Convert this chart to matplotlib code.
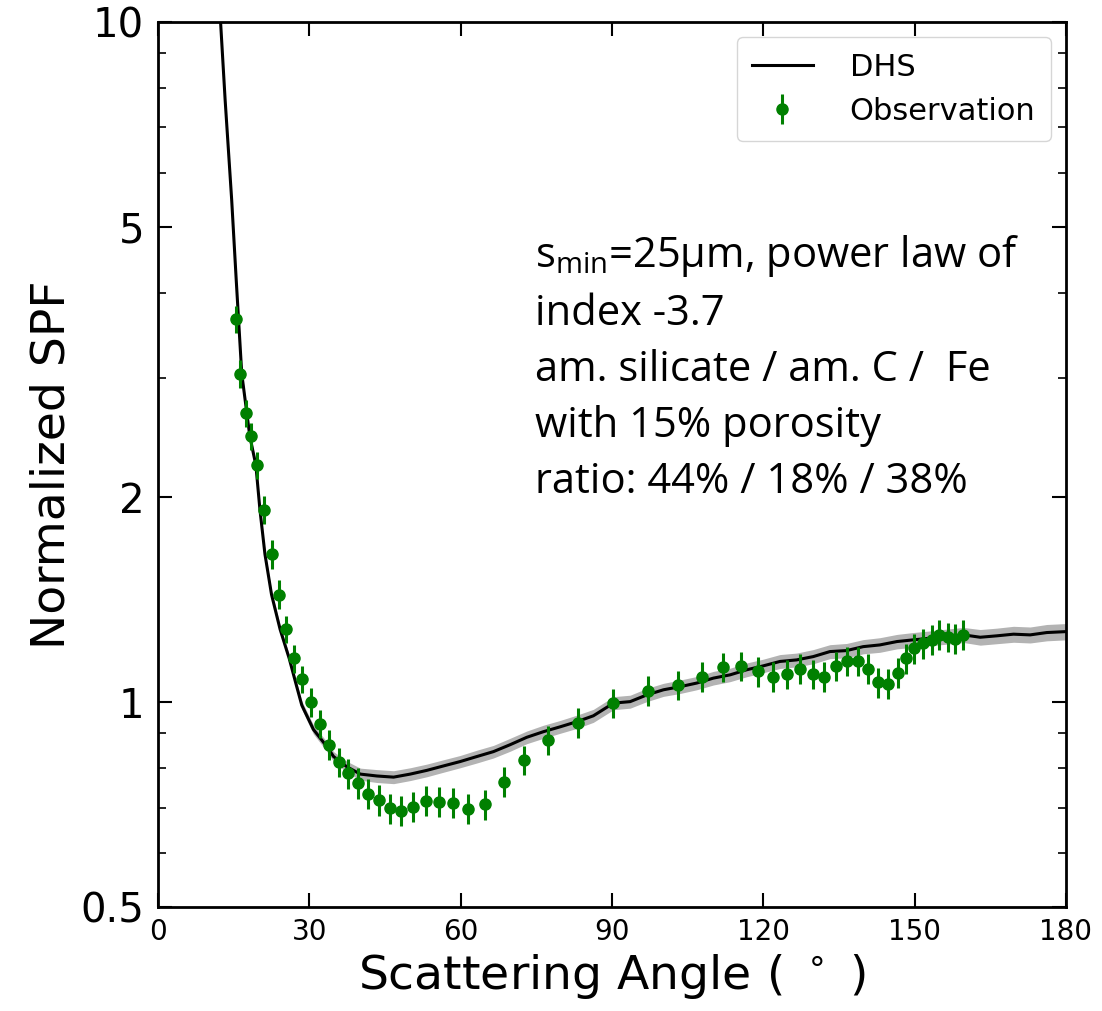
import matplotlib
matplotlib.use("Agg")
import matplotlib.pyplot as plt
from matplotlib.ticker import FixedLocator, NullFormatter, LogLocator

plt.rcParams['mathtext.rm'] = 'Open Sans'

# observed phase function
obs_angle = [15.4, 16.3, 17.4, 18.5, 19.6, 21.1, 22.5, 23.9, 25.4, 27.0, 28.6, 30.3,
             32.1, 33.9, 35.8, 37.6, 39.6, 41.6, 43.8, 45.9, 48.2, 50.6, 53.1, 55.7,
             58.5, 61.5, 64.9, 68.5, 72.6, 77.3, 83.3, 90.2, 97.2, 103.0, 107.8, 112.0,
             115.6, 118.9, 121.9, 124.6, 127.3, 129.8, 132.1, 134.4, 136.5, 138.7, 140.8,
             142.7, 144.7, 146.7, 148.3, 149.9, 151.6, 153.4, 154.9, 156.6, 158.0, 159.5]
obs_spf = [3.66, 3.04, 2.66, 2.46, 2.23, 1.92, 1.65, 1.44, 1.28, 1.16, 1.08, 1.00,
           0.93, 0.866, 0.816, 0.786, 0.760, 0.733, 0.718, 0.698, 0.693, 0.702, 0.716, 0.714,
           0.711, 0.697, 0.708, 0.764, 0.822, 0.880, 0.933, 0.997, 1.04, 1.06, 1.09, 1.126,
           1.13, 1.11, 1.09, 1.10, 1.12, 1.10, 1.09, 1.13, 1.15, 1.15, 1.12,
           1.07, 1.065, 1.105, 1.16, 1.20, 1.22, 1.235, 1.256, 1.246, 1.24, 1.256]
obs_err = [0.17, 0.14, 0.12, 0.11, 0.10, 0.09, 0.08, 0.07, 0.06, 0.055, 0.05, 0.05,
           0.045, 0.045, 0.04, 0.04, 0.04, 0.037, 0.037, 0.035, 0.035, 0.035, 0.036, 0.036,
           0.036, 0.035, 0.036, 0.038, 0.041, 0.044, 0.047, 0.05, 0.052, 0.053, 0.055, 0.056,
           0.057, 0.056, 0.055, 0.055, 0.056, 0.055, 0.055, 0.056, 0.057, 0.057, 0.056,
           0.054, 0.053, 0.055, 0.058, 0.06, 0.061, 0.062, 0.063, 0.062, 0.062, 0.063]

# DHS model
dhs_angle = [12.4, 13.3, 14.6, 15.5, 16.6, 18.2, 19.4, 20.2, 21.2, 22.5, 24.2, 26.0,
             27.5, 28.5, 30.8, 33.5, 34.8, 37.4, 40.1, 43.4, 46.7, 50.0, 53.3, 56.6,
             59.9, 63.2, 66.5, 69.8, 73.1, 76.4, 79.7, 83.0, 86.3, 90.3, 93.6, 96.9,
             100.2, 103.5, 106.8, 110.1, 113.4, 116.7, 120.0, 123.3, 126.6, 129.9, 133.2,
             136.5, 139.8, 143.1, 146.5, 149.7, 153.1, 156.4, 159.7, 163.0, 166.3, 169.6,
             172.9, 176.2, 180.0]
dhs_spf = [10.0, 7.69, 5.48, 4.18, 3.04, 2.46, 2.23, 1.92, 1.65, 1.44, 1.28, 1.16,
           1.054, 0.990, 0.912, 0.860, 0.832, 0.804, 0.784, 0.779, 0.776, 0.784, 0.794, 0.806,
           0.818, 0.832, 0.846, 0.866, 0.888, 0.905, 0.920, 0.936, 0.955, 0.997, 1.002, 1.025,
           1.043, 1.054, 1.067, 1.085, 1.097, 1.116, 1.131, 1.148, 1.154, 1.167, 1.187,
           1.191, 1.207, 1.214, 1.228, 1.235, 1.242, 1.249, 1.256, 1.246, 1.252, 1.259,
           1.256, 1.266, 1.270]
dhs_err = [0.1, 0.08, 0.06, 0.05, 0.04, 0.03, 0.03, 0.025, 0.022, 0.02, 0.018, 0.016,
           0.015, 0.014, 0.014, 0.014, 0.014, 0.015, 0.016, 0.017, 0.017, 0.017, 0.017, 0.017,
           0.017, 0.018, 0.018, 0.019, 0.019, 0.02, 0.02, 0.021, 0.021, 0.022, 0.022, 0.023,
           0.023, 0.024, 0.024, 0.025, 0.025, 0.026, 0.026, 0.027, 0.027, 0.028, 0.028,
           0.029, 0.029, 0.03, 0.03, 0.031, 0.031, 0.032, 0.032, 0.033, 0.033, 0.034,
           0.034, 0.035, 0.035]

dhs_lo = [v - e for v, e in zip(dhs_spf, dhs_err)]
dhs_hi = [v + e for v, e in zip(dhs_spf, dhs_err)]

fig = plt.figure(figsize=(11.02, 10.11), dpi=100)
ax = fig.add_axes([0.1434, 0.1029, 0.8239, 0.8753])

ax.fill_between(dhs_angle, dhs_lo, dhs_hi, color='0.7', lw=0)
ax.plot(dhs_angle, dhs_spf, color='k', lw=2.2, label='DHS')
ax.errorbar(obs_angle, obs_spf, yerr=obs_err, fmt='o', color='green', ms=8,
            elinewidth=2.2, capsize=0, label='Observation')

ax.set_yscale('log')
ax.set_xlim(0, 180)
ax.set_ylim(0.5, 10)
ax.set_xticks([0, 30, 60, 90, 120, 150, 180])
ax.yaxis.set_major_locator(FixedLocator([0.5, 1, 2, 5, 10]))
ax.set_yticklabels(['0.5', '1', '2', '5', '10'])
ax.yaxis.set_minor_locator(LogLocator(base=10, subs=range(1, 10)))
ax.yaxis.set_minor_formatter(NullFormatter())

ax.tick_params(which='both', direction='in', top=True, right=True)
ax.tick_params(which='major', length=10, width=1.5)
ax.tick_params(which='minor', length=6, width=1.2)
ax.tick_params(axis='x', labelsize=20, pad=8)
ax.tick_params(axis='y', labelsize=29, pad=10)
for s in ax.spines.values():
    s.set_linewidth(2)

ax.set_xlabel('Scattering Angle ( $^\\circ$ )', fontsize=34)
ax.set_ylabel('Normalized SPF', fontsize=34)

ax.legend(loc='upper right', fontsize=22, handlelength=2, borderpad=0.5,
          handletextpad=1.2, fancybox=True)

ax.text(0.415, 0.7616,
        's$_{\\mathrm{min}}$=25\u03bcm, power law of\nindex -3.7\n'
        'am. silicate / am. C /  Fe\nwith 15% porosity\nratio: 44% / 18% / 38%',
        transform=ax.transAxes, fontsize=30, va='top', ha='left',
        family='Open Sans', math_fontfamily='custom', linespacing=1.44)

fig.savefig('out.png', dpi=100)
